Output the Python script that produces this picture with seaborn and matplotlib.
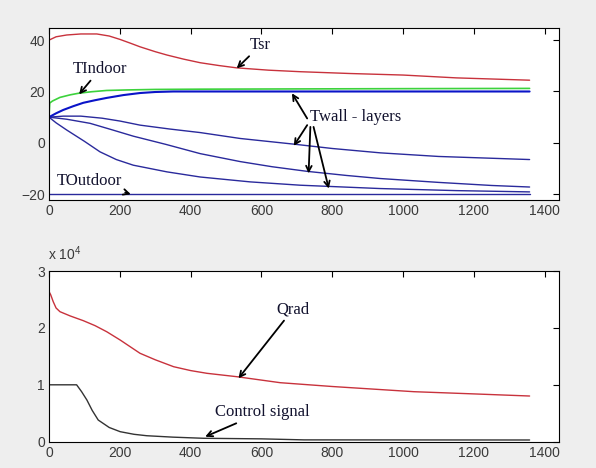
import numpy as np
import pandas as pd
import matplotlib
matplotlib.use("Agg")
import matplotlib.pyplot as plt
import seaborn as sns

# ---------------- data ----------------
t_tsr = [0, 20, 50, 90, 135, 170, 200, 230, 257, 300, 333, 380, 427, 480, 530, 620, 710, 850, 1000, 1150, 1357]
tsr = [40, 41.3, 42.0, 42.4, 42.4, 41.6, 40.3, 38.8, 37.4, 35.5, 34.2, 32.6, 31.2, 30.1, 29.2, 28.3, 27.7, 27.0, 26.4, 25.3, 24.4]

t_ind = [0, 2, 10, 31, 60, 83, 120, 163, 220, 300, 427, 700, 1000, 1357]
tindoor = [10, 15.5, 16.3, 17.7, 18.7, 19.3, 19.9, 20.4, 20.6, 20.8, 20.9, 21.0, 21.1, 21.2]

t_w1 = [0, 20, 40, 69, 97, 130, 163, 210, 257, 300, 351, 420, 600, 1357]
wall1 = [10, 11.5, 12.8, 14.3, 15.6, 16.6, 17.5, 18.6, 19.4, 19.8, 20.0, 20.0, 20.0, 20.0]

t_w2 = [0, 40, 90, 150, 200, 257, 340, 427, 540, 691, 800, 936, 1100, 1250, 1357]
wall2 = [10, 10.4, 10.4, 9.6, 8.5, 6.9, 5.4, 4.0, 1.7, -0.5, -2.2, -3.9, -5.3, -6.0, -6.5]

t_w3 = [0, 50, 116, 180, 238, 330, 427, 540, 630, 729, 840, 936, 1100, 1250, 1357]
wall3 = [10, 9.2, 7.6, 5.0, 2.6, -0.6, -4.2, -7.3, -9.3, -11.1, -12.7, -13.9, -15.4, -16.6, -17.2]

t_w4 = [0, 20, 50, 75, 100, 144, 190, 238, 333, 427, 568, 710, 936, 1150, 1357]
wall4 = [10, 7.8, 5.0, 2.8, 0.6, -3.5, -6.5, -8.7, -11.3, -13.3, -15.2, -16.5, -17.8, -18.6, -19.1]

t_out = [0, 1357]
toutdoor = [-20, -20]

t_q = [0, 5, 12, 20, 31, 60, 97, 130, 163, 201, 257, 300, 352, 400, 446, 531, 653, 800, 1030, 1200, 1357]
qrad = [26400, 25800, 24600, 23500, 22850, 22100, 21270, 20400, 19330, 17870, 15540, 14400, 13180, 12500,
        12020, 11420, 10370, 9700, 8790, 8400, 8030]

t_c = [0, 78, 92, 107, 122, 139, 170, 201, 240, 276, 350, 436, 600, 720, 1357]
control = [10000, 10000, 8800, 7330, 5500, 3810, 2500, 1760, 1300, 1050, 800, 600, 500, 320, 300]

x_ticks = [0, 200, 400, 600, 800, 1000, 1200, 1400]
y_ticks_top = [-20, 0, 20, 40]
y_ticks_bot = [0, 10000, 20000, 30000]
y_ticklabels_bot = ["0", "1", "2", "3"]

# ---------------- figure ----------------
sns.set_style("white")
plt.rcParams['font.family'] = ['Liberation Sans', 'DejaVu Sans']
plt.rcParams['mathtext.default'] = 'regular'

BG = "#eeeeee"
fig = plt.figure(figsize=(5.96, 4.68), dpi=100, facecolor=BG)
ax1 = fig.add_axes([0.0822, 0.5735, 0.8557, 0.3660])
ax2 = fig.add_axes([0.0822, 0.0562, 0.8557, 0.3647])

RED = "#c8323c"
GREEN = "#3cd23c"
NAVY = "#2a2a9c"
BLUE = "#0a14c8"
TXT = "#12122e"

def line(ax, t, v, color, lw):
    df = pd.DataFrame({"t": t, "v": v})
    sns.lineplot(data=df, x="t", y="v", ax=ax, color=color, linewidth=lw,
                 estimator=None, sort=False, legend=False)

line(ax1, t_tsr, tsr, RED, 1.0)
line(ax1, t_out, toutdoor, NAVY, 1.0)
line(ax1, t_w4, wall4, NAVY, 1.0)
line(ax1, t_w3, wall3, NAVY, 1.0)
line(ax1, t_w2, wall2, NAVY, 1.0)
line(ax1, t_ind, tindoor, GREEN, 1.2)
line(ax1, t_w1, wall1, BLUE, 1.5)

line(ax2, t_q, qrad, RED, 1.0)
line(ax2, t_c, control, "#333333", 1.0)

for ax in (ax1, ax2):
    ax.set_facecolor("white")
    ax.set_xlim(0, 1440)
    ax.set_xticks(x_ticks)
    ax.set_xlabel("")
    ax.set_ylabel("")
    for s in ax.spines.values():
        s.set_color("black")
        s.set_linewidth(0.8)
        s.set_visible(True)
    ax.tick_params(direction="in", length=4, width=0.8, top=True, right=True,
                   labelsize=10, labelcolor="#3a3a3a", color="black", pad=3)

ax1.set_ylim(-22.1, 44.6)
ax1.set_yticks(y_ticks_top)
ax2.set_ylim(0, 30000)
ax2.set_yticks(y_ticks_bot)
ax2.set_yticklabels(y_ticklabels_bot)

fig.text(0.081, 0.437, "x 10$^{4}$", fontsize=10, color="#3a3a3a", ha="left", va="bottom")

# ---------------- annotations ----------------
serif = dict(family=['Liberation Serif', 'DejaVu Serif'], size=12, color=TXT)
ap = dict(arrowstyle="->", color="black", lw=1.3, mutation_scale=10, shrinkA=0, shrinkB=0)

ax1.annotate("Tsr", xy=(530, 29.0), xytext=(568, 35.0), ha="left", va="bottom", arrowprops=ap, **serif)
ax1.annotate("TIndoor", xy=(85, 18.9), xytext=(67, 25.5), ha="left", va="bottom", arrowprops=ap, **serif)
ax1.annotate("TOutdoor", xy=(231, -20.0), xytext=(206, -15.0), ha="right", va="center", arrowprops=ap, **serif)
ax1.text(738, 9.9, "Twall - layers", ha="left", va="center", **serif)
for tail, head in [((729, 9.5), (686, 19.3)), ((729, 6.9), (691, -1.2)),
                   ((738, 6.2), (733, -11.9)), ((747, 6.2), (790, -17.8))]:
    ax1.annotate("", xy=head, xytext=tail, arrowprops=ap)

ax2.annotate("Qrad", xy=(535, 11140), xytext=(642, 21860), ha="left", va="bottom", arrowprops=ap, **serif)
ax2.annotate("Control signal", xy=(441, 880), xytext=(469, 3810), ha="left", va="bottom", arrowprops=ap, **serif)

fig.savefig("out.png", dpi=100, facecolor=BG)
